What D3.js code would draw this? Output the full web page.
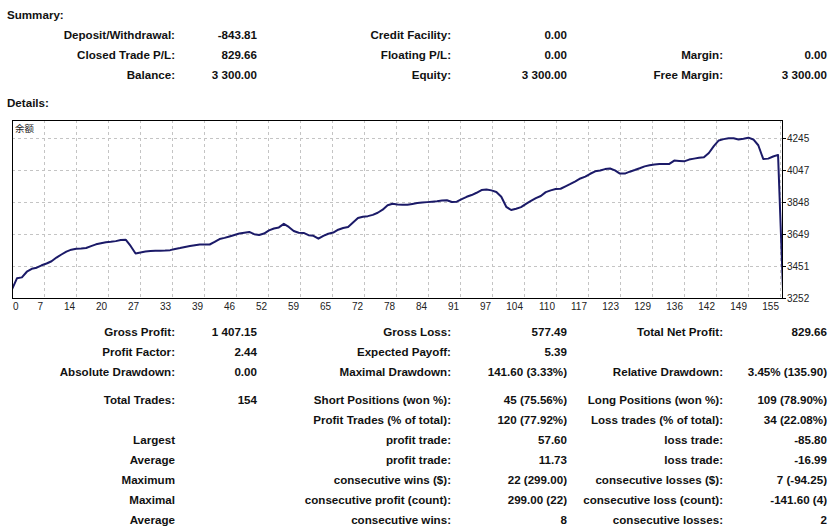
<!DOCTYPE html>
<html>
<head>
<meta charset="utf-8">
<script src="https://cdn.jsdelivr.net/npm/d3@7"></script>
<style>
  body { margin: 0; background: #fff; }
  svg { display: block; }
  .bold { font-family: "Liberation Sans", Arial, sans-serif; font-weight: bold; font-size: 11.6px; fill: #111; }
  .axis text { font-family: "Liberation Sans", Arial, sans-serif; font-size: 10px; fill: #222; }
  .grid line { stroke: #c4c4c4; stroke-dasharray: 3,3; shape-rendering: crispEdges; }
</style>
</head>
<body>
<script>
// balance after each deal
var balance = [
	3305, 3374, 3380, 3415, 3433, 3440, 3455, 3466, 3480, 3503,
	3522, 3540, 3552, 3558, 3559, 3562, 3574, 3585, 3592, 3598,
	3601, 3605, 3612, 3614, 3575, 3528, 3535, 3540, 3544, 3545,
	3546, 3547, 3549, 3556, 3562, 3569, 3575, 3580, 3584, 3584,
	3584, 3600, 3618, 3625, 3634, 3643, 3652, 3657, 3662, 3648,
	3643, 3652, 3672, 3683, 3690, 3712, 3693, 3668, 3657, 3656,
	3642, 3638, 3620, 3638, 3651, 3658, 3676, 3686, 3692, 3720,
	3748, 3756, 3760, 3768, 3781, 3800, 3828, 3837, 3832, 3831,
	3831, 3836, 3841, 3844, 3847, 3850, 3853, 3857, 3859, 3848,
	3850, 3866, 3880, 3891, 3905, 3922, 3926, 3920, 3910, 3880,
	3818, 3798, 3806, 3816, 3836, 3855, 3872, 3885, 3909, 3920,
	3928, 3930, 3945, 3960, 3976, 3994, 4005, 4023, 4038, 4043,
	4052, 4056, 4044, 4024, 4024, 4036, 4046, 4057, 4069, 4076,
	4080, 4083, 4084, 4084, 4105, 4103, 4100, 4111, 4117, 4122,
	4125, 4152, 4195, 4230, 4238, 4244, 4244, 4236, 4241, 4247,
	4236, 4200, 4115, 4117, 4130, 4140, 3300
];
var xTickLabels = ["0","7","14","20","27","33","39","46","52","59","65","72","78",
	"84","91","97","104","110","117","123","129","136","142","149","155"];
var yTickValues = [3252, 3451, 3649, 3848, 4047, 4245];
var chartTitle = "余额";

var summaryRows = [
	["Deposit/Withdrawal:", "-843.81", "Credit Facility:", "0.00", "", ""],
	["Closed Trade P/L:", "829.66", "Floating P/L:", "0.00", "Margin:", "0.00"],
	["Balance:", "3 300.00", "Equity:", "3 300.00", "Free Margin:", "3 300.00"]
];
var detailRows = [
	["Gross Profit:", "1 407.15", "Gross Loss:", "577.49", "Total Net Profit:", "829.66"],
	["Profit Factor:", "2.44", "Expected Payoff:", "5.39", "", ""],
	["Absolute Drawdown:", "0.00", "Maximal Drawdown:", "141.60 (3.33%)", "Relative Drawdown:", "3.45% (135.90)"],
	["Total Trades:", "154", "Short Positions (won %):", "45 (75.56%)", "Long Positions (won %):", "109 (78.90%)"],
	["", "", "Profit Trades (% of total):", "120 (77.92%)", "Loss trades (% of total):", "34 (22.08%)"],
	["Largest", "", "profit trade:", "57.60", "loss trade:", "-85.80"],
	["Average", "", "profit trade:", "11.73", "loss trade:", "-16.99"],
	["Maximum", "", "consecutive wins ($):", "22 (299.00)", "consecutive losses ($):", "7 (-94.25)"],
	["Maximal", "", "consecutive profit (count):", "299.00 (22)", "consecutive loss (count):", "-141.60 (4)"],
	["Average", "", "consecutive wins:", "8", "consecutive losses:", "2"]
];

var W = 839, H = 529;
var plot = { left: 12, right: 782, top: 120, bottom: 298 };
var colRight = [175, 257, 451, 567, 723, 827];
var summaryY = [39, 59, 79];
var detailY = [336, 356, 376, 404, 424, 444, 464, 484, 504, 524];

var svg = d3.select("body").append("svg")
	.attr("width", W)
	.attr("height", H);

svg.append("rect").attr("width", W).attr("height", H).attr("fill", "#fff");

// headings
svg.append("text").attr("class", "bold").attr("x", 7).attr("y", 19).text("Summary:");
svg.append("text").attr("class", "bold").attr("x", 7).attr("y", 107).text("Details:");

function drawTable(rows, ys) {
	var g = svg.append("g");
	rows.forEach(function(row, r) {
		row.forEach(function(cell, c) {
			if (!cell) return;
			g.append("text")
				.attr("class", "bold")
				.attr("x", colRight[c])
				.attr("y", ys[r])
				.attr("text-anchor", "end")
				.text(cell);
		});
	});
}
drawTable(summaryRows, summaryY);
drawTable(detailRows, detailY);

// scales (last deal sits just past the frame, so the drop is cut by it)
var x = d3.scaleLinear()
	.domain([0, balance.length - 1])
	.range([plot.left, plot.right + 1]);
var xLab = d3.scalePoint()
	.domain(xTickLabels)
	.range([plot.left, plot.left + 32 * (xTickLabels.length - 1)]);
var y = d3.scaleLinear()
	.domain([yTickValues[0], yTickValues[yTickValues.length - 1]])
	.range([plot.bottom, 138]);

// grid
var grid = svg.append("g").attr("class", "grid");
grid.selectAll("line.v")
	.data(xTickLabels.slice(1))
	.enter().append("line")
		.attr("class", "v")
		.attr("x1", function(d) { return Math.round(xLab(d)) + 0.5; })
		.attr("x2", function(d) { return Math.round(xLab(d)) + 0.5; })
		.attr("y1", plot.top)
		.attr("y2", plot.bottom);
grid.selectAll("line.h")
	.data(yTickValues.slice(1))
	.enter().append("line")
		.attr("class", "h")
		.attr("x1", plot.left)
		.attr("x2", plot.right)
		.attr("y1", function(d) { return Math.round(y(d)) + 0.5; })
		.attr("y2", function(d) { return Math.round(y(d)) + 0.5; });

// balance line
svg.append("clipPath").attr("id", "clip")
	.append("rect")
		.attr("x", plot.left).attr("y", plot.top)
		.attr("width", plot.right - plot.left).attr("height", plot.bottom - plot.top);

var line = d3.line()
	.x(function(d, i) { return x(i); })
	.y(function(d) { return y(d); });

svg.append("path")
	.datum(balance)
	.attr("clip-path", "url(#clip)")
	.attr("fill", "none")
	.attr("stroke", "#1b1a68")
	.attr("stroke-width", 2)
	.attr("stroke-linejoin", "round")
	.attr("d", line);

// frame
svg.append("rect")
	.attr("x", plot.left + 0.5)
	.attr("y", plot.top + 0.5)
	.attr("width", plot.right - plot.left)
	.attr("height", plot.bottom - plot.top)
	.attr("fill", "none")
	.attr("stroke", "#000")
	.attr("shape-rendering", "crispEdges");

// title in the corner
svg.append("text")
	.attr("x", 15)
	.attr("y", 132)
	.attr("font-family", "'Noto Sans CJK SC', sans-serif")
	.attr("font-size", "9.5px")
	.attr("fill", "#222")
	.text(chartTitle);

// axes
var xAxis = svg.append("g").attr("class", "axis");
xAxis.selectAll("text")
	.data(xTickLabels)
	.enter().append("text")
		.attr("x", function(d, i) { return i === 0 ? xLab(d) + 1 : xLab(d) - 1; })
		.attr("y", 310)
		.attr("text-anchor", function(d, i) { return i === 0 ? "start" : "end"; })
		.text(function(d) { return d; });

var yAxis = svg.append("g").attr("class", "axis");
yAxis.selectAll("line")
	.data(yTickValues)
	.enter().append("line")
		.attr("x1", plot.right + 1)
		.attr("x2", plot.right + 4)
		.attr("y1", function(d) { return Math.round(y(d)) + 0.5; })
		.attr("y2", function(d) { return Math.round(y(d)) + 0.5; })
		.attr("stroke", "#000");
yAxis.selectAll("text")
	.data(yTickValues)
	.enter().append("text")
		.attr("x", 787)
		.attr("y", function(d) { return y(d) + 4; })
		.text(function(d) { return d; });
</script>
</body>
</html>
